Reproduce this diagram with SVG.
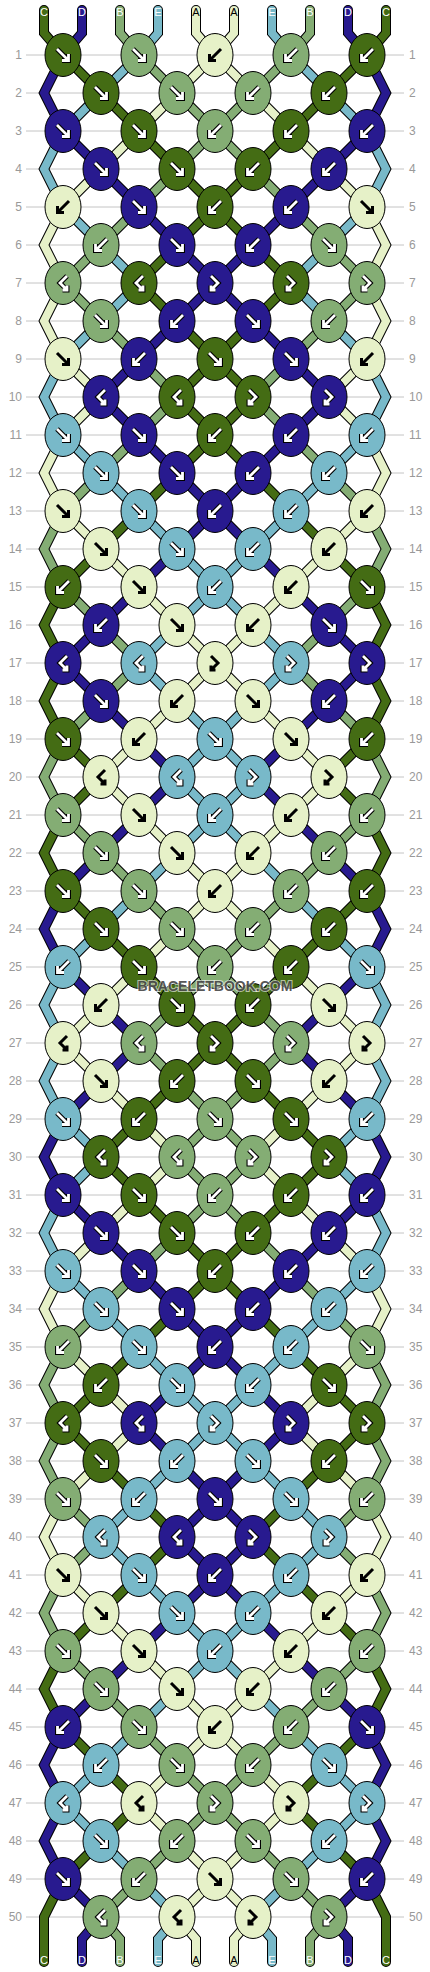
<svg xmlns="http://www.w3.org/2000/svg" xmlns:xlink="http://www.w3.org/1999/xlink" width="430" height="1972" viewBox="0 0 430 1972">
<style>
.o{fill:none;stroke:#000;stroke-width:10;stroke-linecap:round}
.s{fill:none;stroke-width:8;stroke-linecap:round}
.C{stroke:#446c14}.D{stroke:#281a8f}.B{stroke:#84ad74}.E{stroke:#78b9c9}.A{stroke:#e6f1c8}
.fC{fill:#446c14}.fD{fill:#281a8f}.fB{fill:#84ad74}.fE{fill:#78b9c9}.fA{fill:#e6f1c8}
.go{fill:none;stroke:#000;stroke-width:5}
.gw{fill:none;stroke:#fff;stroke-width:2.8}
.gk{fill:none;stroke:#000;stroke-width:3}
.n{font-family:"Liberation Sans",Arial,sans-serif;font-size:12px;fill:#999}
.nl{text-anchor:end}
.lb{font-family:"Liberation Sans",Arial,sans-serif;font-size:11px;text-anchor:middle;fill:#fff}
.lk{fill:#000}
</style>
<defs>
<ellipse id="e" rx="18" ry="21.5" stroke="#000" stroke-width="1"/>
<path id="pF" d="M-6,-6L5.5,5.5M-1,5.5H5.5V-1"/>
<path id="pB" d="M6,-6L-5.5,5.5M1,5.5H-5.5V-1"/>
<path id="pX" d="M4,-7L-3,0L4,7M-0.5,7H4V2.5"/>
<path id="pY" d="M-4,-7L3,0L-4,7M0.5,7H-4V2.5"/>
<g id="wF"><use href="#pF" class="go"/><use href="#pF" class="gw"/></g>
<g id="wB"><use href="#pB" class="go"/><use href="#pB" class="gw"/></g>
<g id="wX"><use href="#pX" class="go"/><use href="#pX" class="gw"/></g>
<g id="wY"><use href="#pY" class="go"/><use href="#pY" class="gw"/></g>
<g id="CF" class="fC"><use href="#e"/><use href="#wF"/></g>
<g id="CB" class="fC"><use href="#e"/><use href="#wB"/></g>
<g id="CX" class="fC"><use href="#e"/><use href="#wX"/></g>
<g id="CY" class="fC"><use href="#e"/><use href="#wY"/></g>
<g id="DF" class="fD"><use href="#e"/><use href="#wF"/></g>
<g id="DB" class="fD"><use href="#e"/><use href="#wB"/></g>
<g id="DX" class="fD"><use href="#e"/><use href="#wX"/></g>
<g id="DY" class="fD"><use href="#e"/><use href="#wY"/></g>
<g id="BF" class="fB"><use href="#e"/><use href="#wF"/></g>
<g id="BB" class="fB"><use href="#e"/><use href="#wB"/></g>
<g id="BX" class="fB"><use href="#e"/><use href="#wX"/></g>
<g id="BY" class="fB"><use href="#e"/><use href="#wY"/></g>
<g id="EF" class="fE"><use href="#e"/><use href="#wF"/></g>
<g id="EB" class="fE"><use href="#e"/><use href="#wB"/></g>
<g id="EX" class="fE"><use href="#e"/><use href="#wX"/></g>
<g id="EY" class="fE"><use href="#e"/><use href="#wY"/></g>
<g id="AF" class="fA"><use href="#e"/><use href="#pF" class="gk"/></g>
<g id="AB" class="fA"><use href="#e"/><use href="#pB" class="gk"/></g>
<g id="AX" class="fA"><use href="#e"/><use href="#pX" class="gk"/></g>
<g id="AY" class="fA"><use href="#e"/><use href="#pY" class="gk"/></g>
<path id="sC" d="M44,10V33L63,55 101,93 139,131 177,169 215,207 177,245 139,283 177,321 215,359 177,397 215,435 177,473 139,511 101,549 63,587 44,625 63,663 44,701 63,739 101,777 63,815 44,853 63,891 101,929 139,967 177,1005 215,1043 177,1081 139,1119 101,1157 139,1195 177,1233 215,1271 177,1309 139,1347 101,1385 63,1423 101,1461 139,1499 177,1537 139,1575 101,1613 63,1651 44,1689 63,1727 101,1765 139,1803 101,1841 63,1879 44,1917V1962"/>
<path id="sD" d="M82,10V33L63,55 44,93 63,131 101,169 139,207 177,245 215,283 177,321 139,359 101,397 139,435 177,473 215,511 177,549 139,587 101,625 63,663 101,701 139,739 177,777 139,815 101,853 63,891 44,929 63,967 101,1005 139,1043 101,1081 63,1119 44,1157 63,1195 101,1233 139,1271 177,1309 215,1347 177,1385 139,1423 177,1461 215,1499 177,1537 215,1575 177,1613 139,1651 101,1689 63,1727 44,1765 63,1803 44,1841 63,1879 101,1917 82,1939V1962"/>
<path id="sB" d="M120,10V33L139,55 177,93 215,131 177,169 139,207 101,245 63,283 101,321 139,359 177,397 139,435 101,473 63,511 44,549 63,587 101,625 139,663 101,701 63,739 44,777 63,815 101,853 139,891 177,929 215,967 177,1005 139,1043 177,1081 215,1119 177,1157 215,1195 177,1233 139,1271 101,1309 63,1347 44,1385 63,1423 44,1461 63,1499 101,1537 63,1575 44,1613 63,1651 101,1689 139,1727 177,1765 215,1803 177,1841 139,1879 101,1917 120,1939V1962"/>
<path id="sE" d="M158,10V33L139,55 101,93 63,131 44,169 63,207 101,245 139,283 101,321 63,359 44,397 63,435 101,473 139,511 177,549 215,587 177,625 139,663 177,701 215,739 177,777 215,815 177,853 139,891 101,929 63,967 44,1005 63,1043 44,1081 63,1119 101,1157 63,1195 44,1233 63,1271 101,1309 139,1347 177,1385 215,1423 177,1461 139,1499 101,1537 139,1575 177,1613 215,1651 177,1689 139,1727 101,1765 63,1803 101,1841 139,1879 177,1917 158,1939V1962"/>
<path id="sA" d="M196,10V33L215,55 177,93 139,131 101,169 63,207 44,245 63,283 44,321 63,359 101,397 63,435 44,473 63,511 101,549 139,587 177,625 215,663 177,701 139,739 101,777 139,815 177,853 215,891 177,929 139,967 101,1005 63,1043 101,1081 139,1119 177,1157 139,1195 101,1233 63,1271 44,1309 63,1347 101,1385 139,1423 101,1461 63,1499 44,1537 63,1575 101,1613 139,1651 177,1689 215,1727 177,1765 139,1803 177,1841 215,1879 177,1917 196,1939V1962"/>
</defs>
<rect width="430" height="1972" fill="#fff"/>
<path id="rowlines" fill="none" stroke="#c4c4c4" stroke-width="1" d="M26,55H404M26,93H404M26,131H404M26,169H404M26,207H404M26,245H404M26,283H404M26,321H404M26,359H404M26,397H404M26,435H404M26,473H404M26,511H404M26,549H404M26,587H404M26,625H404M26,663H404M26,701H404M26,739H404M26,777H404M26,815H404M26,853H404M26,891H404M26,929H404M26,967H404M26,1005H404M26,1043H404M26,1081H404M26,1119H404M26,1157H404M26,1195H404M26,1233H404M26,1271H404M26,1309H404M26,1347H404M26,1385H404M26,1423H404M26,1461H404M26,1499H404M26,1537H404M26,1575H404M26,1613H404M26,1651H404M26,1689H404M26,1727H404M26,1765H404M26,1803H404M26,1841H404M26,1879H404M26,1917H404"/>
<g id="rownumbers" class="n">
<g class="nl">
<text x="22" y="59">1</text><text x="22" y="97">2</text><text x="22" y="135">3</text><text x="22" y="173">4</text><text x="22" y="211">5</text><text x="22" y="249">6</text><text x="22" y="287">7</text><text x="22" y="325">8</text><text x="22" y="363">9</text><text x="22" y="401">10</text>
<text x="22" y="439">11</text><text x="22" y="477">12</text><text x="22" y="515">13</text><text x="22" y="553">14</text><text x="22" y="591">15</text><text x="22" y="629">16</text><text x="22" y="667">17</text><text x="22" y="705">18</text><text x="22" y="743">19</text><text x="22" y="781">20</text>
<text x="22" y="819">21</text><text x="22" y="857">22</text><text x="22" y="895">23</text><text x="22" y="933">24</text><text x="22" y="971">25</text><text x="22" y="1009">26</text><text x="22" y="1047">27</text><text x="22" y="1085">28</text><text x="22" y="1123">29</text><text x="22" y="1161">30</text>
<text x="22" y="1199">31</text><text x="22" y="1237">32</text><text x="22" y="1275">33</text><text x="22" y="1313">34</text><text x="22" y="1351">35</text><text x="22" y="1389">36</text><text x="22" y="1427">37</text><text x="22" y="1465">38</text><text x="22" y="1503">39</text><text x="22" y="1541">40</text>
<text x="22" y="1579">41</text><text x="22" y="1617">42</text><text x="22" y="1655">43</text><text x="22" y="1693">44</text><text x="22" y="1731">45</text><text x="22" y="1769">46</text><text x="22" y="1807">47</text><text x="22" y="1845">48</text><text x="22" y="1883">49</text><text x="22" y="1921">50</text>
</g>
<g>
<text x="409" y="59">1</text><text x="409" y="97">2</text><text x="409" y="135">3</text><text x="409" y="173">4</text><text x="409" y="211">5</text><text x="409" y="249">6</text><text x="409" y="287">7</text><text x="409" y="325">8</text><text x="409" y="363">9</text><text x="409" y="401">10</text>
<text x="409" y="439">11</text><text x="409" y="477">12</text><text x="409" y="515">13</text><text x="409" y="553">14</text><text x="409" y="591">15</text><text x="409" y="629">16</text><text x="409" y="667">17</text><text x="409" y="705">18</text><text x="409" y="743">19</text><text x="409" y="781">20</text>
<text x="409" y="819">21</text><text x="409" y="857">22</text><text x="409" y="895">23</text><text x="409" y="933">24</text><text x="409" y="971">25</text><text x="409" y="1009">26</text><text x="409" y="1047">27</text><text x="409" y="1085">28</text><text x="409" y="1123">29</text><text x="409" y="1161">30</text>
<text x="409" y="1199">31</text><text x="409" y="1237">32</text><text x="409" y="1275">33</text><text x="409" y="1313">34</text><text x="409" y="1351">35</text><text x="409" y="1389">36</text><text x="409" y="1427">37</text><text x="409" y="1465">38</text><text x="409" y="1503">39</text><text x="409" y="1541">40</text>
<text x="409" y="1579">41</text><text x="409" y="1617">42</text><text x="409" y="1655">43</text><text x="409" y="1693">44</text><text x="409" y="1731">45</text><text x="409" y="1769">46</text><text x="409" y="1807">47</text><text x="409" y="1845">48</text><text x="409" y="1883">49</text><text x="409" y="1921">50</text>
</g>
</g>
<g id="connectors">
<g id="halfStrings">
<use href="#sC" class="o"/><use href="#sC" class="s C"/>
<use href="#sD" class="o"/><use href="#sD" class="s D"/>
<use href="#sB" class="o"/><use href="#sB" class="s B"/>
<use href="#sE" class="o"/><use href="#sE" class="s E"/>
<use href="#sA" class="o"/><use href="#sA" class="s A"/>
</g>
<use href="#halfStrings" transform="matrix(-1,0,0,1,430,0)"/>
</g>
<g id="labels" class="lb">
<text x="44" y="16">C</text><text x="82" y="16">D</text><text x="120" y="16">B</text><text x="158" y="16">E</text><text x="196" y="16" class="lk">A</text><text x="234" y="16" class="lk">A</text><text x="272" y="16">E</text><text x="310" y="16">B</text><text x="348" y="16">D</text><text x="386" y="16">C</text>
<text x="44" y="1964">C</text><text x="82" y="1964">D</text><text x="120" y="1964">B</text><text x="158" y="1964">E</text><text x="196" y="1964" class="lk">A</text><text x="234" y="1964" class="lk">A</text><text x="272" y="1964">E</text><text x="310" y="1964">B</text><text x="348" y="1964">D</text><text x="386" y="1964">C</text>
</g>
<g id="knots">
<g id="k1-1"><use href="#CF" x="63" y="55"/></g><g id="k1-2"><use href="#BF" x="139" y="55"/></g><g id="k1-3"><use href="#AB" x="215" y="55"/></g><g id="k1-4"><use href="#BB" x="291" y="55"/></g><g id="k1-5"><use href="#CB" x="367" y="55"/></g>
<g id="k2-1"><use href="#CF" x="101" y="93"/></g><g id="k2-2"><use href="#BF" x="177" y="93"/></g><g id="k2-3"><use href="#BB" x="253" y="93"/></g><g id="k2-4"><use href="#CB" x="329" y="93"/></g>
<g id="k3-1"><use href="#DF" x="63" y="131"/></g><g id="k3-2"><use href="#CF" x="139" y="131"/></g><g id="k3-3"><use href="#BB" x="215" y="131"/></g><g id="k3-4"><use href="#CB" x="291" y="131"/></g><g id="k3-5"><use href="#DB" x="367" y="131"/></g>
<g id="k4-1"><use href="#DF" x="101" y="169"/></g><g id="k4-2"><use href="#CF" x="177" y="169"/></g><g id="k4-3"><use href="#CB" x="253" y="169"/></g><g id="k4-4"><use href="#DB" x="329" y="169"/></g>
<g id="k5-1"><use href="#AB" x="63" y="207"/></g><g id="k5-2"><use href="#DF" x="139" y="207"/></g><g id="k5-3"><use href="#CB" x="215" y="207"/></g><g id="k5-4"><use href="#DB" x="291" y="207"/></g><g id="k5-5"><use href="#AF" x="367" y="207"/></g>
<g id="k6-1"><use href="#BB" x="101" y="245"/></g><g id="k6-2"><use href="#DF" x="177" y="245"/></g><g id="k6-3"><use href="#DB" x="253" y="245"/></g><g id="k6-4"><use href="#BF" x="329" y="245"/></g>
<g id="k7-1"><use href="#BX" x="63" y="283"/></g><g id="k7-2"><use href="#CX" x="139" y="283"/></g><g id="k7-3"><use href="#DY" x="215" y="283"/></g><g id="k7-4"><use href="#CY" x="291" y="283"/></g><g id="k7-5"><use href="#BY" x="367" y="283"/></g>
<g id="k8-1"><use href="#BF" x="101" y="321"/></g><g id="k8-2"><use href="#DB" x="177" y="321"/></g><g id="k8-3"><use href="#DF" x="253" y="321"/></g><g id="k8-4"><use href="#BB" x="329" y="321"/></g>
<g id="k9-1"><use href="#AF" x="63" y="359"/></g><g id="k9-2"><use href="#DB" x="139" y="359"/></g><g id="k9-3"><use href="#CF" x="215" y="359"/></g><g id="k9-4"><use href="#DF" x="291" y="359"/></g><g id="k9-5"><use href="#AB" x="367" y="359"/></g>
<g id="k10-1"><use href="#DX" x="101" y="397"/></g><g id="k10-2"><use href="#CX" x="177" y="397"/></g><g id="k10-3"><use href="#CY" x="253" y="397"/></g><g id="k10-4"><use href="#DY" x="329" y="397"/></g>
<g id="k11-1"><use href="#EF" x="63" y="435"/></g><g id="k11-2"><use href="#DF" x="139" y="435"/></g><g id="k11-3"><use href="#CB" x="215" y="435"/></g><g id="k11-4"><use href="#DB" x="291" y="435"/></g><g id="k11-5"><use href="#EB" x="367" y="435"/></g>
<g id="k12-1"><use href="#EF" x="101" y="473"/></g><g id="k12-2"><use href="#DF" x="177" y="473"/></g><g id="k12-3"><use href="#DB" x="253" y="473"/></g><g id="k12-4"><use href="#EB" x="329" y="473"/></g>
<g id="k13-1"><use href="#AF" x="63" y="511"/></g><g id="k13-2"><use href="#EF" x="139" y="511"/></g><g id="k13-3"><use href="#DB" x="215" y="511"/></g><g id="k13-4"><use href="#EB" x="291" y="511"/></g><g id="k13-5"><use href="#AB" x="367" y="511"/></g>
<g id="k14-1"><use href="#AF" x="101" y="549"/></g><g id="k14-2"><use href="#EF" x="177" y="549"/></g><g id="k14-3"><use href="#EB" x="253" y="549"/></g><g id="k14-4"><use href="#AB" x="329" y="549"/></g>
<g id="k15-1"><use href="#CB" x="63" y="587"/></g><g id="k15-2"><use href="#AF" x="139" y="587"/></g><g id="k15-3"><use href="#EB" x="215" y="587"/></g><g id="k15-4"><use href="#AB" x="291" y="587"/></g><g id="k15-5"><use href="#CF" x="367" y="587"/></g>
<g id="k16-1"><use href="#DB" x="101" y="625"/></g><g id="k16-2"><use href="#AF" x="177" y="625"/></g><g id="k16-3"><use href="#AB" x="253" y="625"/></g><g id="k16-4"><use href="#DF" x="329" y="625"/></g>
<g id="k17-1"><use href="#DX" x="63" y="663"/></g><g id="k17-2"><use href="#EX" x="139" y="663"/></g><g id="k17-3"><use href="#AY" x="215" y="663"/></g><g id="k17-4"><use href="#EY" x="291" y="663"/></g><g id="k17-5"><use href="#DY" x="367" y="663"/></g>
<g id="k18-1"><use href="#DF" x="101" y="701"/></g><g id="k18-2"><use href="#AB" x="177" y="701"/></g><g id="k18-3"><use href="#AF" x="253" y="701"/></g><g id="k18-4"><use href="#DB" x="329" y="701"/></g>
<g id="k19-1"><use href="#CF" x="63" y="739"/></g><g id="k19-2"><use href="#AB" x="139" y="739"/></g><g id="k19-3"><use href="#EF" x="215" y="739"/></g><g id="k19-4"><use href="#AF" x="291" y="739"/></g><g id="k19-5"><use href="#CB" x="367" y="739"/></g>
<g id="k20-1"><use href="#AX" x="101" y="777"/></g><g id="k20-2"><use href="#EX" x="177" y="777"/></g><g id="k20-3"><use href="#EY" x="253" y="777"/></g><g id="k20-4"><use href="#AY" x="329" y="777"/></g>
<g id="k21-1"><use href="#BF" x="63" y="815"/></g><g id="k21-2"><use href="#AF" x="139" y="815"/></g><g id="k21-3"><use href="#EB" x="215" y="815"/></g><g id="k21-4"><use href="#AB" x="291" y="815"/></g><g id="k21-5"><use href="#BB" x="367" y="815"/></g>
<g id="k22-1"><use href="#BF" x="101" y="853"/></g><g id="k22-2"><use href="#AF" x="177" y="853"/></g><g id="k22-3"><use href="#AB" x="253" y="853"/></g><g id="k22-4"><use href="#BB" x="329" y="853"/></g>
<g id="k23-1"><use href="#CF" x="63" y="891"/></g><g id="k23-2"><use href="#BF" x="139" y="891"/></g><g id="k23-3"><use href="#AB" x="215" y="891"/></g><g id="k23-4"><use href="#BB" x="291" y="891"/></g><g id="k23-5"><use href="#CB" x="367" y="891"/></g>
<g id="k24-1"><use href="#CF" x="101" y="929"/></g><g id="k24-2"><use href="#BF" x="177" y="929"/></g><g id="k24-3"><use href="#BB" x="253" y="929"/></g><g id="k24-4"><use href="#CB" x="329" y="929"/></g>
<g id="k25-1"><use href="#EB" x="63" y="967"/></g><g id="k25-2"><use href="#CF" x="139" y="967"/></g><g id="k25-3"><use href="#BB" x="215" y="967"/></g><g id="k25-4"><use href="#CB" x="291" y="967"/></g><g id="k25-5"><use href="#EF" x="367" y="967"/></g>
<g id="k26-1"><use href="#AB" x="101" y="1005"/></g><g id="k26-2"><use href="#CF" x="177" y="1005"/></g><g id="k26-3"><use href="#CB" x="253" y="1005"/></g><g id="k26-4"><use href="#AF" x="329" y="1005"/></g>
<g id="k27-1"><use href="#AX" x="63" y="1043"/></g><g id="k27-2"><use href="#BX" x="139" y="1043"/></g><g id="k27-3"><use href="#CY" x="215" y="1043"/></g><g id="k27-4"><use href="#BY" x="291" y="1043"/></g><g id="k27-5"><use href="#AY" x="367" y="1043"/></g>
<g id="k28-1"><use href="#AF" x="101" y="1081"/></g><g id="k28-2"><use href="#CB" x="177" y="1081"/></g><g id="k28-3"><use href="#CF" x="253" y="1081"/></g><g id="k28-4"><use href="#AB" x="329" y="1081"/></g>
<g id="k29-1"><use href="#EF" x="63" y="1119"/></g><g id="k29-2"><use href="#CB" x="139" y="1119"/></g><g id="k29-3"><use href="#BF" x="215" y="1119"/></g><g id="k29-4"><use href="#CF" x="291" y="1119"/></g><g id="k29-5"><use href="#EB" x="367" y="1119"/></g>
<g id="k30-1"><use href="#CX" x="101" y="1157"/></g><g id="k30-2"><use href="#BX" x="177" y="1157"/></g><g id="k30-3"><use href="#BY" x="253" y="1157"/></g><g id="k30-4"><use href="#CY" x="329" y="1157"/></g>
<g id="k31-1"><use href="#DF" x="63" y="1195"/></g><g id="k31-2"><use href="#CF" x="139" y="1195"/></g><g id="k31-3"><use href="#BB" x="215" y="1195"/></g><g id="k31-4"><use href="#CB" x="291" y="1195"/></g><g id="k31-5"><use href="#DB" x="367" y="1195"/></g>
<g id="k32-1"><use href="#DF" x="101" y="1233"/></g><g id="k32-2"><use href="#CF" x="177" y="1233"/></g><g id="k32-3"><use href="#CB" x="253" y="1233"/></g><g id="k32-4"><use href="#DB" x="329" y="1233"/></g>
<g id="k33-1"><use href="#EF" x="63" y="1271"/></g><g id="k33-2"><use href="#DF" x="139" y="1271"/></g><g id="k33-3"><use href="#CB" x="215" y="1271"/></g><g id="k33-4"><use href="#DB" x="291" y="1271"/></g><g id="k33-5"><use href="#EB" x="367" y="1271"/></g>
<g id="k34-1"><use href="#EF" x="101" y="1309"/></g><g id="k34-2"><use href="#DF" x="177" y="1309"/></g><g id="k34-3"><use href="#DB" x="253" y="1309"/></g><g id="k34-4"><use href="#EB" x="329" y="1309"/></g>
<g id="k35-1"><use href="#BB" x="63" y="1347"/></g><g id="k35-2"><use href="#EF" x="139" y="1347"/></g><g id="k35-3"><use href="#DB" x="215" y="1347"/></g><g id="k35-4"><use href="#EB" x="291" y="1347"/></g><g id="k35-5"><use href="#BF" x="367" y="1347"/></g>
<g id="k36-1"><use href="#CB" x="101" y="1385"/></g><g id="k36-2"><use href="#EF" x="177" y="1385"/></g><g id="k36-3"><use href="#EB" x="253" y="1385"/></g><g id="k36-4"><use href="#CF" x="329" y="1385"/></g>
<g id="k37-1"><use href="#CX" x="63" y="1423"/></g><g id="k37-2"><use href="#DX" x="139" y="1423"/></g><g id="k37-3"><use href="#EY" x="215" y="1423"/></g><g id="k37-4"><use href="#DY" x="291" y="1423"/></g><g id="k37-5"><use href="#CY" x="367" y="1423"/></g>
<g id="k38-1"><use href="#CF" x="101" y="1461"/></g><g id="k38-2"><use href="#EB" x="177" y="1461"/></g><g id="k38-3"><use href="#EF" x="253" y="1461"/></g><g id="k38-4"><use href="#CB" x="329" y="1461"/></g>
<g id="k39-1"><use href="#BF" x="63" y="1499"/></g><g id="k39-2"><use href="#EB" x="139" y="1499"/></g><g id="k39-3"><use href="#DF" x="215" y="1499"/></g><g id="k39-4"><use href="#EF" x="291" y="1499"/></g><g id="k39-5"><use href="#BB" x="367" y="1499"/></g>
<g id="k40-1"><use href="#EX" x="101" y="1537"/></g><g id="k40-2"><use href="#DX" x="177" y="1537"/></g><g id="k40-3"><use href="#DY" x="253" y="1537"/></g><g id="k40-4"><use href="#EY" x="329" y="1537"/></g>
<g id="k41-1"><use href="#AF" x="63" y="1575"/></g><g id="k41-2"><use href="#EF" x="139" y="1575"/></g><g id="k41-3"><use href="#DB" x="215" y="1575"/></g><g id="k41-4"><use href="#EB" x="291" y="1575"/></g><g id="k41-5"><use href="#AB" x="367" y="1575"/></g>
<g id="k42-1"><use href="#AF" x="101" y="1613"/></g><g id="k42-2"><use href="#EF" x="177" y="1613"/></g><g id="k42-3"><use href="#EB" x="253" y="1613"/></g><g id="k42-4"><use href="#AB" x="329" y="1613"/></g>
<g id="k43-1"><use href="#BF" x="63" y="1651"/></g><g id="k43-2"><use href="#AF" x="139" y="1651"/></g><g id="k43-3"><use href="#EB" x="215" y="1651"/></g><g id="k43-4"><use href="#AB" x="291" y="1651"/></g><g id="k43-5"><use href="#BB" x="367" y="1651"/></g>
<g id="k44-1"><use href="#BF" x="101" y="1689"/></g><g id="k44-2"><use href="#AF" x="177" y="1689"/></g><g id="k44-3"><use href="#AB" x="253" y="1689"/></g><g id="k44-4"><use href="#BB" x="329" y="1689"/></g>
<g id="k45-1"><use href="#DB" x="63" y="1727"/></g><g id="k45-2"><use href="#BF" x="139" y="1727"/></g><g id="k45-3"><use href="#AB" x="215" y="1727"/></g><g id="k45-4"><use href="#BB" x="291" y="1727"/></g><g id="k45-5"><use href="#DF" x="367" y="1727"/></g>
<g id="k46-1"><use href="#EB" x="101" y="1765"/></g><g id="k46-2"><use href="#BF" x="177" y="1765"/></g><g id="k46-3"><use href="#BB" x="253" y="1765"/></g><g id="k46-4"><use href="#EF" x="329" y="1765"/></g>
<g id="k47-1"><use href="#EX" x="63" y="1803"/></g><g id="k47-2"><use href="#AX" x="139" y="1803"/></g><g id="k47-3"><use href="#BY" x="215" y="1803"/></g><g id="k47-4"><use href="#AY" x="291" y="1803"/></g><g id="k47-5"><use href="#EY" x="367" y="1803"/></g>
<g id="k48-1"><use href="#EF" x="101" y="1841"/></g><g id="k48-2"><use href="#BB" x="177" y="1841"/></g><g id="k48-3"><use href="#BF" x="253" y="1841"/></g><g id="k48-4"><use href="#EB" x="329" y="1841"/></g>
<g id="k49-1"><use href="#DF" x="63" y="1879"/></g><g id="k49-2"><use href="#BB" x="139" y="1879"/></g><g id="k49-3"><use href="#AF" x="215" y="1879"/></g><g id="k49-4"><use href="#BF" x="291" y="1879"/></g><g id="k49-5"><use href="#DB" x="367" y="1879"/></g>
<g id="k50-1"><use href="#BX" x="101" y="1917"/></g><g id="k50-2"><use href="#AX" x="177" y="1917"/></g><g id="k50-3"><use href="#AY" x="253" y="1917"/></g><g id="k50-4"><use href="#BY" x="329" y="1917"/></g>
</g>
<text id="watermark" x="215" y="991" text-anchor="middle" font-family="'Liberation Sans',Arial,sans-serif" font-size="14" font-weight="bold" fill="#3a3a3a" fill-opacity="0.85" stroke="#fff" stroke-opacity="0.6" stroke-width="2" paint-order="stroke">BRACELETBOOK.COM</text>
</svg>
